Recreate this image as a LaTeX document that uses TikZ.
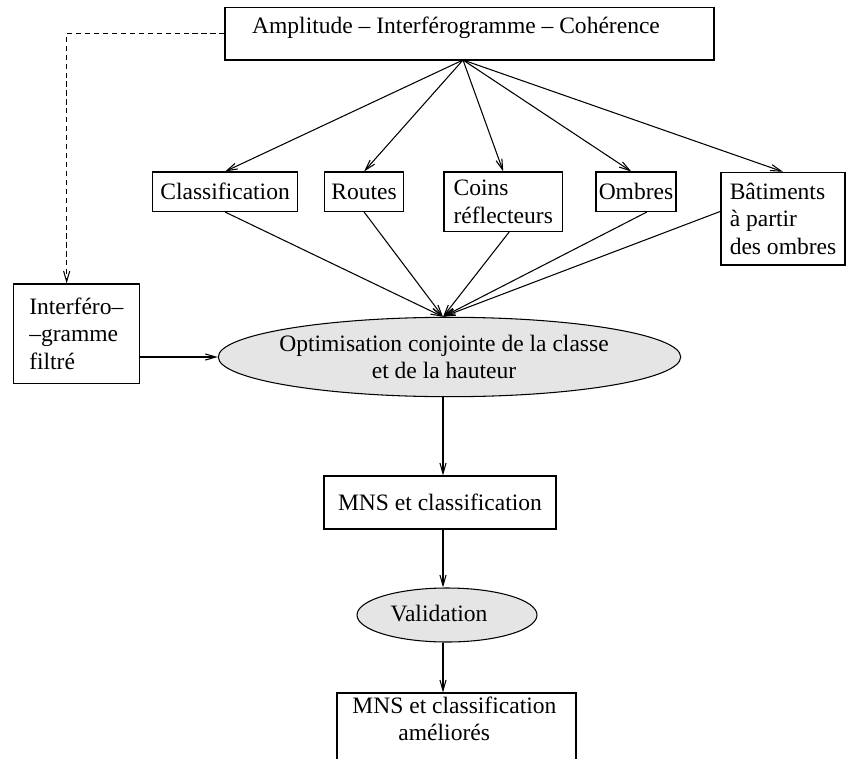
\documentclass[tikz,border=0pt]{standalone}
\usepackage{fontspec}
\setmainfont{Liberation Serif}
\usetikzlibrary{arrows.meta,shapes.geometric}
\begin{document}
\begin{tikzpicture}[x=0.425pt,y=-0.425pt,
  every node/.style={font=\fontsize{10}{11.7}\selectfont, inner sep=0pt},
  wh/.style 2 args={minimum width=#1*0.425pt, minimum height=#2*0.425pt},
  box/.style={draw, line width=0.45pt, rectangle},
  oval/.style={draw, line width=0.45pt, ellipse, fill=gray!20},
  arr/.style={-{Straight Barb[length=4.5pt,width=2.6pt]}, line width=0.45pt},
  ]
\useasboundingbox (0,0) rectangle (846,758);
\clip (0,0) rectangle (846,758);

% nodes
\node[box, wh={489}{52.7}] (top) at (469.5,33.65) {};
\node[anchor=base west] (toptxt) at (251.7,33) {Amplitude – Interférogramme – Cohérence};

\node[box, wh={145}{39.5}] (cls) at (225.1,191.75) {Classification};
\node[box, wh={78.8}{39.5}] (rts) at (364.1,191.75) {Routes};
\node[box, wh={118.5}{59.5}, align=left] (coins) at (503.25,201.75) {Coins\\réflecteurs};
\node[box, wh={80}{39.5}] (omb) at (636,191.75) {Ombres};
\node[box, wh={124}{92.7}, align=left] (bat) at (783,218.65) {Bâtiments\\à partir\\des ombres};

\node[box, wh={126}{99.3}, align=left] (filt) at (76.3,333.65) {Interféro–\\–gramme\\filtré};

\node[oval, wh={462.4}{79.4}] (opt) at (449.5,357) {};
\node[align=center] (opttxt) at (444,357) {Optimisation conjointe de la classe\\et de la hauteur};

\node[box, wh={232}{53}] (mns) at (440,502.5) {MNS et classification};

\node[oval, wh={180}{54}] (val) at (447,615) {};
\node[anchor=base] (valtxt) at (439,621.7) {Validation};

\node[box, wh={239}{120}] (bot) at (456.5,753) {};
\node[anchor=base west] (bot1) at (352,713) {MNS et classification};
\node[anchor=base west] (bot2) at (398,740) {améliorés};

% helper coordinates
\coordinate (fan) at (463,60);
\coordinate (ax) at (443,0);

% fan from top box
\draw[arr] (fan) -- (cls.north);
\draw[arr] (fan) -- (rts.north);
\draw[arr] (fan) -- (coins.north);
\draw[arr] (fan) -- ([xshift=-2pt]omb.north);
\draw[arr] (fan) -- (bat.north);

% converging into the ellipse
\draw[arr] (cls.south) -- (opt.north -| ax);
\draw[arr] (rts.south) -- (opt.north -| ax);
\draw[arr] ([xshift=2.5pt]coins.south) -- (opt.north -| ax);
\draw[arr] ([xshift=4.6pt]omb.south) -- (opt.north -| ax);
\draw[arr] ([yshift=3.1pt]bat.west) -- (opt.north -| ax);

% dashed link
\draw[arr, dash pattern=on 2.2pt off 1.6pt] (top.west) -| ([xshift=-4.1pt]filt.north);

% left box to ellipse
\draw[arr] (filt.east |- opt.west) -- (opt.west);

% vertical chain
\draw[arr] (opt.south -| ax) -- (mns.north -| ax);
\draw[arr] (mns.south -| ax) -- (val.north -| ax);
\draw[arr] (val.south -| ax) -- (bot.north -| ax);
\end{tikzpicture}
\end{document}
